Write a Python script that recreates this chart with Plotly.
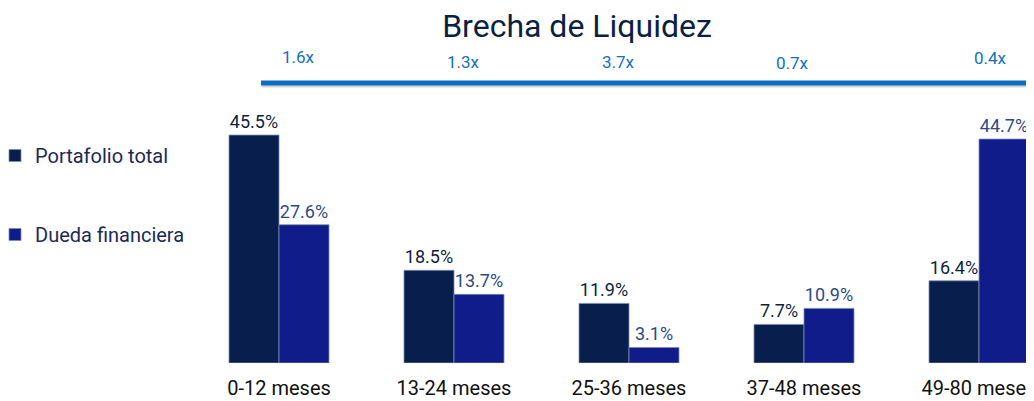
import plotly.graph_objects as go

categories = ["0-12 meses", "13-24 meses", "25-36 meses", "37-48 meses", "49-80 meses"]
portafolio = [45.5, 18.5, 11.9, 7.7, 16.4]
deuda = [27.6, 13.7, 3.1, 10.9, 44.7]
ratios = ["1.6x", "1.3x", "3.7x", "0.7x", "0.4x"]
ratio_offsets_px = [19, 9, -11, -12, 11]
ratio_y_px = [49, 54, 54, 55, 50]

FONT = "Roboto"
C_PORT = "#081f4d"
C_DEBT = "#0f1c8a"

W, H = 1026, 393
BASE = 355.0          # baseline pixel (from top of figure)
PX_PER_PCT = 5.01
CAT0 = 271.0          # pixel centre of first category
STEP = 175.0

fig = go.Figure()
fig.add_trace(go.Bar(
    name="Portafolio total", x=categories, y=portafolio,
    marker=dict(color=C_PORT, line=dict(color="#7d8bb3", width=0.8)),
    text=[f"{v:.1f}%" for v in portafolio], textposition="outside",
    textfont=dict(family=FONT, size=18, color="#0d1f3f"),
    cliponaxis=False, legendgroup="a",
))
fig.add_trace(go.Bar(
    name="Dueda financiera", x=categories, y=deuda,
    marker=dict(color=C_DEBT, line=dict(color="#7d8bb3", width=0.8)),
    text=[f"{v:.1f}%" for v in deuda], textposition="outside",
    textfont=dict(family=FONT, size=18, color="#2d4a85"),
    cliponaxis=False, legendgroup="b",
))

for i, (r, dx, py) in enumerate(zip(ratios, ratio_offsets_px, ratio_y_px)):
    fig.add_annotation(x=i, y=(BASE - py) / BASE, xref="x", yref="paper",
                       xanchor="center", yanchor="middle",
                       text=r, showarrow=False, xshift=dx,
                       font=dict(family=FONT, size=17, color="#1170c2"))

# shadow + blue line
fig.add_shape(type="line", xref="paper", yref="paper",
              x0=254 / W, x1=1.0, y0=(BASE - 78) / BASE, y1=(BASE - 78) / BASE,
              line=dict(color="rgba(0,0,0,0.16)", width=3))
fig.add_shape(type="line", xref="paper", yref="paper",
              x0=253 / W, x1=1.0, y0=(BASE - 75) / BASE, y1=(BASE - 75) / BASE,
              line=dict(color="#0a6fc0", width=5))

fig.update_layout(
    width=W, height=H,
    margin=dict(l=0, r=0, t=0, b=H - BASE, autoexpand=False),
    paper_bgcolor="white", plot_bgcolor="white",
    title=dict(text="Brecha de Liquidez", x=569 / W, xanchor="center",
               y=1 - 18 / H, yanchor="middle",
               font=dict(family=FONT, size=32, color="#0b1f45")),
    barmode="group", bargap=75 / 175, bargroupgap=0,
    showlegend=True,
    legend=dict(x=-13 / W, xanchor="left", y=(BASE - 128) / BASE, yanchor="top",
                traceorder="grouped", tracegroupgap=50,
                font=dict(family=FONT, size=20, color="#1b2a55"),
                bgcolor="rgba(0,0,0,0)", itemwidth=30),
    xaxis=dict(type="category", range=[-CAT0 / STEP, (W - CAT0) / STEP],
               showgrid=False, zeroline=False, showline=False,
               ticks="", ticklabelstandoff=11,
               tickfont=dict(family=FONT, size=20, color="#111111")),
    yaxis=dict(visible=False, range=[0, BASE / PX_PER_PCT]),
)

fig.write_html("out.html")
